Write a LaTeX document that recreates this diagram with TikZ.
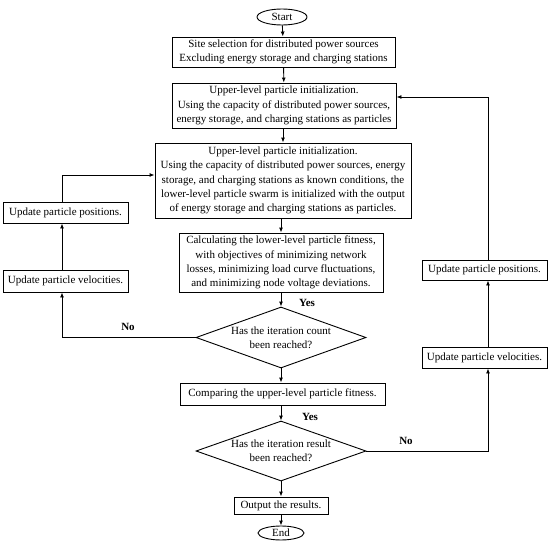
\documentclass[tikz,border=0pt]{standalone}
\usepackage{fontspec}
\setmainfont{Liberation Serif}
\usetikzlibrary{shapes.geometric,arrows.meta}
\begin{document}
\begin{tikzpicture}[x=1pt,y=-1pt,
  every node/.style={font=\fontsize{11}{14.3}\selectfont},
  box/.style={draw,line width=0.9pt,inner sep=0pt,align=center},
  term/.style={draw,ellipse,line width=0.9pt,inner sep=0pt},
  dec/.style={draw,diamond,aspect=2.8,line width=0.9pt,inner sep=0pt,align=center},
  lbl/.style={font=\fontsize{11}{12}\selectfont\bfseries},
  arr/.style={line width=0.9pt,-{Latex[length=5pt,width=4pt]}},
  ln/.style={line width=0.9pt}]
\useasboundingbox (0,0) rectangle (550,546);
\node[term,minimum width=50pt,minimum height=16pt] (start) at (282,17) {Start};
\node[box,minimum width=223pt,minimum height=30pt] (b1) at (283.5,52) {Site selection for distributed power sources\\Excluding energy storage and charging stations};
\node[box,minimum width=224pt,minimum height=45pt] (b2) at (284,105.5) {Upper-level particle initialization.\\Using the capacity of distributed power sources,\\energy storage, and charging stations as particles};
\node[box,minimum width=256pt,minimum height=75pt] (b3) at (283,180.5) {Upper-level particle initialization.\\Using the capacity of distributed power sources, energy\\storage, and charging stations as known conditions, the\\lower-level particle swarm is initialized with the output\\of energy storage and charging stations as particles.};
\node[box,minimum width=204pt,minimum height=59pt] (b4) at (281,262.5) {Calculating the lower-level particle fitness,\\with objectives of minimizing network\\losses, minimizing load curve fluctuations,\\and minimizing node voltage deviations.};
\node[dec,minimum width=170pt,minimum height=61pt] (d1) at (281,337.5) {Has the iteration count\\been reached?};
\node[box,minimum width=205pt,minimum height=22pt] (b5) at (282.5,394) {Comparing the upper-level particle fitness.};
\node[dec,minimum width=170pt,minimum height=60pt] (d2) at (281,451) {Has the iteration result\\been reached?};
\node[box,minimum width=94pt,minimum height=17pt] (b6) at (281,505.5) {Output the results.};
\node[term,minimum width=46pt,minimum height=14pt] (end) at (281,533) {End};
\node[box,minimum width=125pt,minimum height=21pt] (lp) at (65.5,212.5) {Update particle positions.};
\node[box,minimum width=125pt,minimum height=22pt] (lv) at (65.5,281) {Update particle velocities.};
\node[box,minimum width=125pt,minimum height=20pt] (rp) at (484.5,270) {Update particle positions.};
\node[box,minimum width=125pt,minimum height=21pt] (rv) at (484.5,357.5) {Update particle velocities.};
\coordinate (L) at (62,175);
\coordinate (R) at (488,97);
\draw[arr] (start) -- (b1);
\draw[arr] (b1) -- (b2);
\draw[arr] (b2.south -| b3.north) -- (b3.north);
\draw[arr] (b3.south -| b4.north) -- (b4.north);
\draw[arr] (b4.south -| d1.north) -- (d1.north);
\draw[arr] (d1.south) -- (d1.south |- b5.north);
\draw[arr] (b5.south -| d2.north) -- (d2.north);
\draw[arr] (d2.south) -- (d2.south |- b6.north);
\draw[arr] (b6.south -| end.north) -- (end.north);
\draw[arr] (d1.west) -| (lv.south -| L);
\draw[arr] (lv.north -| L) -- (lp.south -| L);
\draw[arr] (lp.north -| L) -- (L) -- (L -| b3.west);
\draw[arr] (d2.east) -| (rv.south -| R);
\draw[arr] (rv.north -| R) -- (rp.south -| R);
\draw[arr] (rp.north -| R) -- (R) -- (R -| b2.east);
\node[lbl] (yes1) at (307,303) {Yes};
\node[lbl] (yes2) at (310,417) {Yes};
\node[lbl] (no1) at (128,327) {No};
\node[lbl] (no2) at (406,441) {No};
\end{tikzpicture}
\end{document}
